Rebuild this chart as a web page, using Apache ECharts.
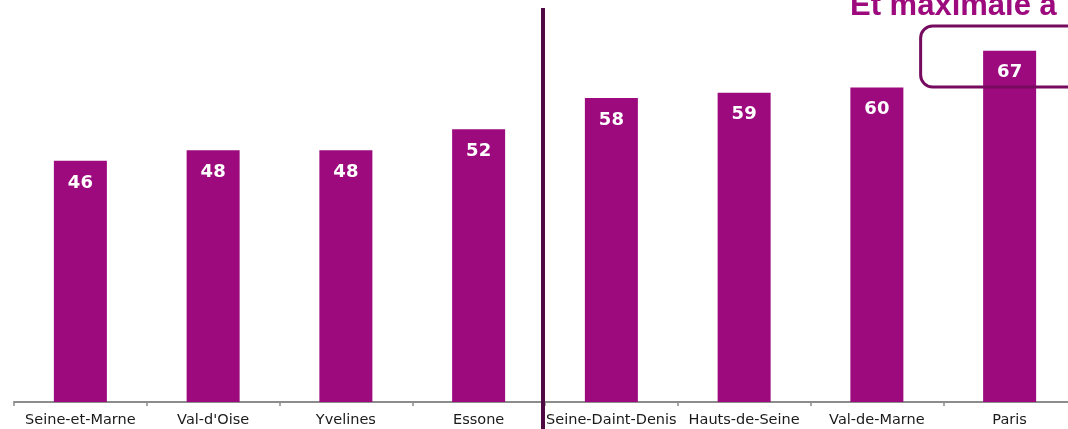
<!DOCTYPE html>
<html><head><meta charset="utf-8">
<script src="https://cdn.jsdelivr.net/npm/echarts@6/dist/echarts.min.js"></script>
<style>html,body{margin:0;padding:0;background:#fff}#c{width:1068px;height:429px}</style>
</head><body><div id="c"></div>
<script>
const categories = ['Seine-et-Marne', "Val-d'Oise", 'Yvelines', 'Essone', 'Seine-Daint-Denis', 'Hauts-de-Seine', 'Val-de-Marne', 'Paris'];
const values = [46, 48, 48, 52, 58, 59, 60, 67];
const titleText = 'Et maximale à';

const chart = echarts.init(document.getElementById('c'), null, {renderer: 'canvas'});
const option = {
  animation: false,
  grid: {left: 14, width: 1062, top: 35, bottom: 27, containLabel: false, outerBoundsMode: 'none'},
  xAxis: {
    type: 'category', data: categories,
    axisLine: {lineStyle: {color: '#8c8c8c', width: 2}},
    axisTick: {show: true, interval: 0, length: 4, lineStyle: {color: '#8c8c8c', width: 1.5}},
    axisLabel: {interval: 0, color: '#1a1a1a', fontFamily: 'DejaVu Sans', fontSize: 14.5, margin: 11, hideOverlap: false}
  },
  yAxis: {type: 'value', min: 0, max: 70, show: false, splitLine: {show: false}},
  series: [{
    type: 'bar', data: values, barWidth: 53,
    itemStyle: {color: '#9c0a7e'},
    label: {show: true, position: 'insideTop', distance: 13, color: '#fff',
      fontFamily: 'DejaVu Sans', fontWeight: 'bold', fontSize: 18}
  }]
};
chart.setOption(option);

const c3 = chart.convertToPixel({xAxisIndex: 0}, 3);
const c4 = chart.convertToPixel({xAxisIndex: 0}, 4);
const c7 = chart.convertToPixel({xAxisIndex: 0}, 7);
const divX = (c3 + c4) / 2 - 2;
chart.setOption({
  graphic: [
    {type: 'line', shape: {x1: divX, y1: 8, x2: divX, y2: 429},
      style: {stroke: '#4e0a42', lineWidth: 4}, z: 10},
    {type: 'rect', shape: {x: c7 - 89, y: 26, width: 200, height: 61, r: 12},
      style: {fill: 'none', stroke: '#760a5e', lineWidth: 3}, z: 10},
    {type: 'text', x: 850, y: 22,
      style: {text: titleText, fill: '#9c0a7e', font: 'bold 31px "Liberation Sans", Arial, sans-serif',
        verticalAlign: 'bottom', align: 'left'}, z: 10}
  ]
});
</script></body></html>
